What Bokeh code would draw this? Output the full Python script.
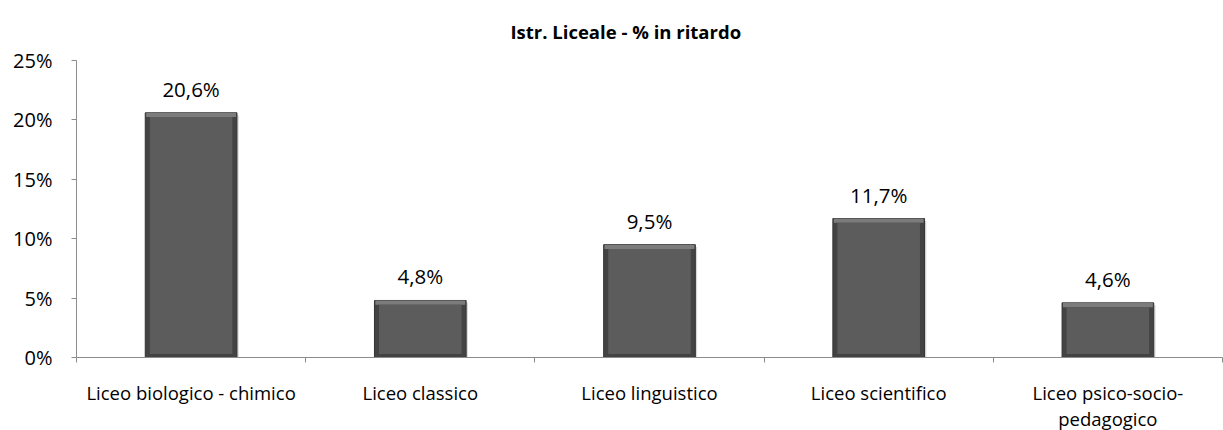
from bokeh.plotting import figure
from bokeh.models import Range1d, FixedTicker
from bokeh.core.properties import value
from bokeh.embed import file_html
from bokeh.resources import INLINE

categories = ["Liceo biologico - chimico", "Liceo classico", "Liceo linguistico",
              "Liceo scientifico", "Liceo psico-socio-\npedagogico"]
values = [20.6, 4.8, 9.5, 11.7, 4.6]
y_ticks = [0, 5, 10, 15, 20, 25]

n = len(categories)
xc = [i + 0.5 for i in range(n)]

p = figure(frame_width=1146, frame_height=297, output_backend="svg", toolbar_location=None,
           x_range=Range1d(0, n), y_range=Range1d(0, 25),
           min_border_left=76, min_border_right=1, min_border_top=59, min_border_bottom=70)
p.outline_line_color = None
p.grid.grid_line_color = None

font = "Open Sans"
p.title.text = "Istr. Liceale - % in ritardo"
p.title.text_font = font
p.title.text_font_size = "18.5px"
p.title.text_font_style = "bold"
p.title.align = "left"
p.title.offset = 434
p.title.standoff = 33
p.title.text_color = "#000000"

hw = 0.2
left = [x - hw for x in xc]
right = [x + hw for x in xc]
dx = 0.02
dy = 0.36
# shadow
p.quad(left=[l + 0.006 for l in left], right=[r + 0.008 for r in right],
       bottom=[-0.25] * n, top=[v - 0.2 for v in values], fill_color="#000000", fill_alpha=0.15, line_color=None)
# outer bevel (dark sides)
p.quad(left=left, right=right, bottom=[0] * n, top=values, fill_color="#434343", line_color="#333333", line_width=1)
# top highlight band
p.quad(left=[l + 0.004 for l in left], right=[r - 0.004 for r in right], bottom=[v - dy for v in values], top=values,
       fill_color="#7c7c7c", line_color=None)
# inner face
p.quad(left=[l + dx for l in left], right=[r - dx for r in right],
       bottom=[0.3] * n, top=[v - dy for v in values], fill_color="#5c5c5c", line_color=None)

labels = [f"{v:.1f}".replace(".", ",") + "%" for v in values]
p.text(x=xc, y=values, text=labels, text_align="center", text_baseline="middle",
       y_offset=-24, text_font=value(font), text_font_size="20.5px", text_color="#000000")

# axes
p.yaxis.ticker = FixedTicker(ticks=y_ticks)
p.yaxis.major_label_overrides = {t: f"{t}%" for t in y_ticks}
p.yaxis.major_tick_out = 5
p.yaxis.major_tick_in = 0
p.yaxis.minor_tick_line_color = None
p.yaxis.axis_line_color = "#8c8c8c"
p.yaxis.major_tick_line_color = "#8c8c8c"
p.yaxis.major_label_text_font = font
p.yaxis.major_label_text_font_size = "20px"
p.yaxis.major_label_text_color = "#000000"
p.yaxis.major_label_standoff = 19

p.xaxis.ticker = FixedTicker(ticks=xc, minor_ticks=list(range(n + 1)))
p.xaxis.major_label_overrides = {x: c for x, c in zip(xc, categories)}
p.xaxis.major_tick_line_color = None
p.xaxis.minor_tick_out = 5
p.xaxis.minor_tick_in = 0
p.xaxis.minor_tick_line_color = "#8c8c8c"
p.xaxis.axis_line_color = "#8c8c8c"
p.xaxis.major_label_text_font = font
p.xaxis.major_label_text_font_size = "18.5px"
p.xaxis.major_label_text_line_height = 1.05
p.xaxis.major_label_text_color = "#000000"
p.xaxis.major_label_standoff = 16

open("out.html", "w").write(file_html(p, INLINE))
